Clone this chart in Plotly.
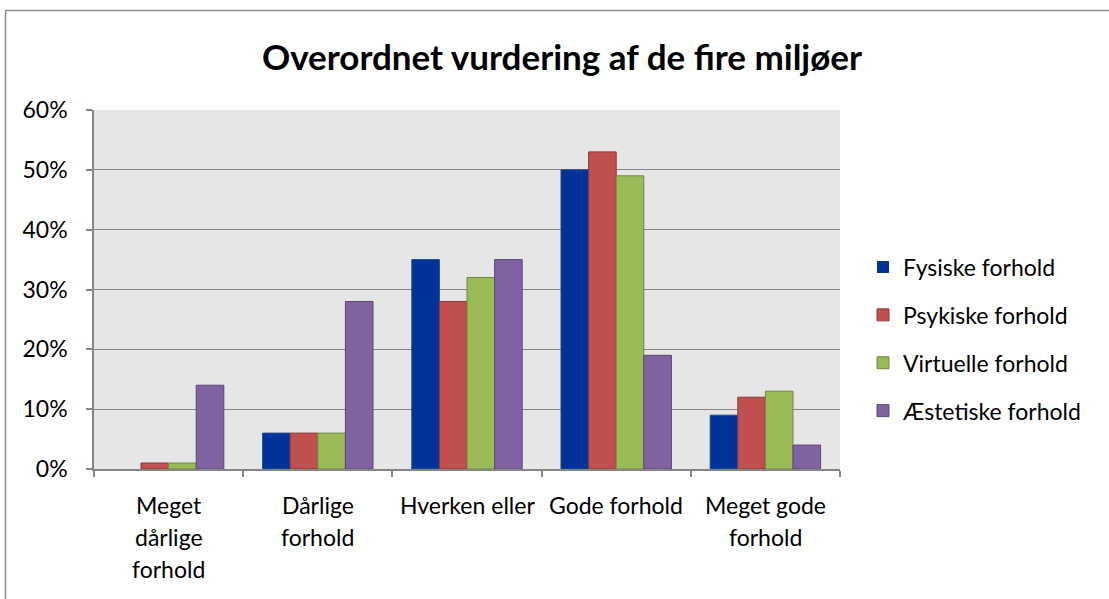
import plotly.graph_objects as go

categories = ["Meget\ndårlige\nforhold", "Dårlige\nforhold", "Hverken eller", "Gode forhold", "Meget gode\nforhold"]
series_names = ["Fysiske forhold", "Psykiske forhold", "Virtuelle forhold", "Æstetiske forhold"]
fysiske = [0.00, 0.06, 0.35, 0.50, 0.09]
psykiske = [0.01, 0.06, 0.28, 0.53, 0.12]
virtuelle = [0.01, 0.06, 0.32, 0.49, 0.13]
aestetiske = [0.14, 0.28, 0.35, 0.19, 0.04]
y_ticks = [0, 0.1, 0.2, 0.3, 0.4, 0.5, 0.6]

fill_colors = ["#003399", "#C0504D", "#9BBB59", "#8064A2"]
line_colors = ["#1F4A8A", "#8C3836", "#71893F", "#5C4776"]
FONT = "Lato"
FS = 23

W, H = 1109, 599
L, R, T, B = 94, 840, 110, 469

fig = go.Figure()
for name, vals, fc, lc in zip(series_names, [fysiske, psykiske, virtuelle, aestetiske], fill_colors, line_colors):
    fig.add_trace(go.Bar(
        name=name, x=categories, y=vals, legendgroup=name,
        marker=dict(color=fc, line=dict(color=lc, width=[1 if v > 0 else 0 for v in vals])),
    ))

annotations = []
for cat in categories:
    for i, line in enumerate(cat.split("\n")):
        annotations.append(dict(
            x=cat, y=0, xref="x", yref="y", text=line, showarrow=False,
            yanchor="middle", xanchor="center", yshift=-36 - 32 * i,
            font=dict(family=FONT, size=FS, color="#000000"),
        ))

def px_x(p):
    return (p - L) / (R - L)

def px_y(p):
    return (B - p) / (B - T)

fig.update_layout(
    width=W, height=H,
    margin=dict(l=L, r=W - R, t=T, b=H - B, pad=0),
    paper_bgcolor="#FFFFFF",
    plot_bgcolor="#E6E6E6",
    barmode="group",
    bargap=0.26,
    bargroupgap=0,
    font=dict(family=FONT, size=FS, color="#000000"),
    title=dict(
        text="<b>Overordnet vurdering af de fire miljøer</b>",
        x=562 / W, xanchor="center", y=1 - 58 / H, yanchor="middle",
        font=dict(family=FONT, size=35, color="#000000"),
    ),
    legend=dict(
        x=px_x(863), xanchor="left", y=px_y(339), yanchor="middle",
        font=dict(family=FONT, size=FS, color="#000000"),
        tracegroupgap=15, bgcolor="rgba(0,0,0,0)",
    ),
    showlegend=True,
    annotations=annotations,
    shapes=[dict(
        type="rect", xref="paper", yref="paper",
        x0=px_x(5.5), x1=px_x(1130), y0=px_y(10.5), y1=px_y(640),
        line=dict(color="#8C8C8C", width=1.5), fillcolor="rgba(0,0,0,0)",
        layer="below",
    )],
)

fig.update_xaxes(
    showticklabels=False, showgrid=False,
    showline=True, linecolor="#868686", linewidth=1.5,
    ticks="outside", tickson="boundaries", ticklen=6, tickcolor="#868686", tickwidth=1.5,
    fixedrange=True,
)
fig.update_yaxes(
    range=[0, 0.6], tickvals=y_ticks, tickformat=".0%",
    showgrid=True, gridcolor="#868686", gridwidth=1.3,
    showline=True, linecolor="#868686", linewidth=1.5,
    ticks="outside", ticklen=6, tickcolor="#868686", tickwidth=1.5,
    ticklabelstandoff=14, zeroline=False,
    tickfont=dict(family=FONT, size=FS, color="#000000"),
    fixedrange=True,
)

fig.write_html(
    "out.html",
    config={"displayModeBar": False},
    post_script="document.body.style.margin='0';",
)
